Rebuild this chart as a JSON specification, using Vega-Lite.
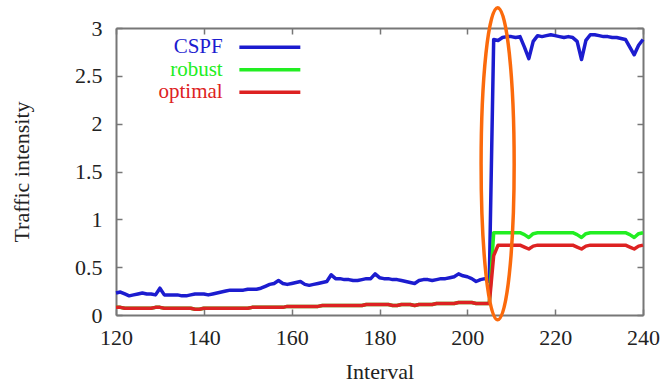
{
  "$schema": "https://vega.github.io/schema/vega-lite/v6.json",
  "width": 527,
  "height": 287,
  "autosize": {"type": "none"},
  "padding": {"left": 116, "top": 28, "right": 21, "bottom": 70},
  "background": "white",
  "config": {
    "view": {"stroke": null},
    "font": "Liberation Serif",
    "legend": {"labelFont": "Liberation Serif", "labelFontSize": 21},
    "axis": {
      "labelFont": "Liberation Serif",
      "labelFontSize": 22,
      "labelColor": "#222",
      "titleFont": "Liberation Serif",
      "titleFontSize": 22,
      "titleFontWeight": "normal",
      "titleColor": "#222",
      "domainColor": "#777",
      "domainWidth": 2,
      "tickColor": "#777",
      "tickWidth": 1.5,
      "tickSize": -6,
      "grid": false
    }
  },
  "datasets": {
    "series": [
      {"interval": 120, "CSPF": 0.23, "robust": 0.08, "optimal": 0.08},
      {"interval": 121, "CSPF": 0.24, "robust": 0.08, "optimal": 0.08},
      {"interval": 122, "CSPF": 0.22, "robust": 0.07, "optimal": 0.07},
      {"interval": 123, "CSPF": 0.2, "robust": 0.07, "optimal": 0.07},
      {"interval": 124, "CSPF": 0.21, "robust": 0.07, "optimal": 0.07},
      {"interval": 125, "CSPF": 0.22, "robust": 0.07, "optimal": 0.07},
      {"interval": 126, "CSPF": 0.23, "robust": 0.07, "optimal": 0.07},
      {"interval": 127, "CSPF": 0.22, "robust": 0.07, "optimal": 0.07},
      {"interval": 128, "CSPF": 0.22, "robust": 0.07, "optimal": 0.07},
      {"interval": 129, "CSPF": 0.21, "robust": 0.08, "optimal": 0.08},
      {"interval": 130, "CSPF": 0.28, "robust": 0.08, "optimal": 0.08},
      {"interval": 131, "CSPF": 0.21, "robust": 0.07, "optimal": 0.07},
      {"interval": 132, "CSPF": 0.21, "robust": 0.07, "optimal": 0.07},
      {"interval": 133, "CSPF": 0.21, "robust": 0.07, "optimal": 0.07},
      {"interval": 134, "CSPF": 0.21, "robust": 0.07, "optimal": 0.07},
      {"interval": 135, "CSPF": 0.2, "robust": 0.07, "optimal": 0.07},
      {"interval": 136, "CSPF": 0.2, "robust": 0.07, "optimal": 0.07},
      {"interval": 137, "CSPF": 0.21, "robust": 0.07, "optimal": 0.07},
      {"interval": 138, "CSPF": 0.22, "robust": 0.06, "optimal": 0.06},
      {"interval": 139, "CSPF": 0.22, "robust": 0.06, "optimal": 0.06},
      {"interval": 140, "CSPF": 0.22, "robust": 0.07, "optimal": 0.07},
      {"interval": 141, "CSPF": 0.21, "robust": 0.07, "optimal": 0.07},
      {"interval": 142, "CSPF": 0.22, "robust": 0.07, "optimal": 0.07},
      {"interval": 143, "CSPF": 0.23, "robust": 0.07, "optimal": 0.07},
      {"interval": 144, "CSPF": 0.24, "robust": 0.07, "optimal": 0.07},
      {"interval": 145, "CSPF": 0.25, "robust": 0.07, "optimal": 0.07},
      {"interval": 146, "CSPF": 0.26, "robust": 0.07, "optimal": 0.07},
      {"interval": 147, "CSPF": 0.26, "robust": 0.07, "optimal": 0.07},
      {"interval": 148, "CSPF": 0.26, "robust": 0.07, "optimal": 0.07},
      {"interval": 149, "CSPF": 0.26, "robust": 0.07, "optimal": 0.07},
      {"interval": 150, "CSPF": 0.27, "robust": 0.07, "optimal": 0.07},
      {"interval": 151, "CSPF": 0.27, "robust": 0.08, "optimal": 0.08},
      {"interval": 152, "CSPF": 0.27, "robust": 0.08, "optimal": 0.08},
      {"interval": 153, "CSPF": 0.28, "robust": 0.08, "optimal": 0.08},
      {"interval": 154, "CSPF": 0.3, "robust": 0.08, "optimal": 0.08},
      {"interval": 155, "CSPF": 0.32, "robust": 0.08, "optimal": 0.08},
      {"interval": 156, "CSPF": 0.33, "robust": 0.08, "optimal": 0.08},
      {"interval": 157, "CSPF": 0.36, "robust": 0.08, "optimal": 0.08},
      {"interval": 158, "CSPF": 0.33, "robust": 0.08, "optimal": 0.08},
      {"interval": 159, "CSPF": 0.32, "robust": 0.09, "optimal": 0.09},
      {"interval": 160, "CSPF": 0.33, "robust": 0.09, "optimal": 0.09},
      {"interval": 161, "CSPF": 0.34, "robust": 0.09, "optimal": 0.09},
      {"interval": 162, "CSPF": 0.35, "robust": 0.09, "optimal": 0.09},
      {"interval": 163, "CSPF": 0.32, "robust": 0.09, "optimal": 0.09},
      {"interval": 164, "CSPF": 0.31, "robust": 0.09, "optimal": 0.09},
      {"interval": 165, "CSPF": 0.32, "robust": 0.09, "optimal": 0.09},
      {"interval": 166, "CSPF": 0.33, "robust": 0.09, "optimal": 0.09},
      {"interval": 167, "CSPF": 0.34, "robust": 0.1, "optimal": 0.1},
      {"interval": 168, "CSPF": 0.35, "robust": 0.1, "optimal": 0.1},
      {"interval": 169, "CSPF": 0.42, "robust": 0.1, "optimal": 0.1},
      {"interval": 170, "CSPF": 0.38, "robust": 0.1, "optimal": 0.1},
      {"interval": 171, "CSPF": 0.38, "robust": 0.1, "optimal": 0.1},
      {"interval": 172, "CSPF": 0.37, "robust": 0.1, "optimal": 0.1},
      {"interval": 173, "CSPF": 0.37, "robust": 0.1, "optimal": 0.1},
      {"interval": 174, "CSPF": 0.36, "robust": 0.1, "optimal": 0.1},
      {"interval": 175, "CSPF": 0.36, "robust": 0.1, "optimal": 0.1},
      {"interval": 176, "CSPF": 0.37, "robust": 0.1, "optimal": 0.1},
      {"interval": 177, "CSPF": 0.38, "robust": 0.11, "optimal": 0.11},
      {"interval": 178, "CSPF": 0.38, "robust": 0.11, "optimal": 0.11},
      {"interval": 179, "CSPF": 0.43, "robust": 0.11, "optimal": 0.11},
      {"interval": 180, "CSPF": 0.39, "robust": 0.11, "optimal": 0.11},
      {"interval": 181, "CSPF": 0.38, "robust": 0.11, "optimal": 0.11},
      {"interval": 182, "CSPF": 0.38, "robust": 0.11, "optimal": 0.11},
      {"interval": 183, "CSPF": 0.37, "robust": 0.1, "optimal": 0.1},
      {"interval": 184, "CSPF": 0.37, "robust": 0.1, "optimal": 0.1},
      {"interval": 185, "CSPF": 0.36, "robust": 0.11, "optimal": 0.11},
      {"interval": 186, "CSPF": 0.35, "robust": 0.11, "optimal": 0.11},
      {"interval": 187, "CSPF": 0.34, "robust": 0.11, "optimal": 0.11},
      {"interval": 188, "CSPF": 0.33, "robust": 0.1, "optimal": 0.1},
      {"interval": 189, "CSPF": 0.36, "robust": 0.11, "optimal": 0.11},
      {"interval": 190, "CSPF": 0.37, "robust": 0.11, "optimal": 0.11},
      {"interval": 191, "CSPF": 0.37, "robust": 0.11, "optimal": 0.11},
      {"interval": 192, "CSPF": 0.36, "robust": 0.11, "optimal": 0.11},
      {"interval": 193, "CSPF": 0.37, "robust": 0.12, "optimal": 0.12},
      {"interval": 194, "CSPF": 0.38, "robust": 0.12, "optimal": 0.12},
      {"interval": 195, "CSPF": 0.38, "robust": 0.12, "optimal": 0.12},
      {"interval": 196, "CSPF": 0.39, "robust": 0.12, "optimal": 0.12},
      {"interval": 197, "CSPF": 0.4, "robust": 0.12, "optimal": 0.12},
      {"interval": 198, "CSPF": 0.43, "robust": 0.13, "optimal": 0.13},
      {"interval": 199, "CSPF": 0.41, "robust": 0.13, "optimal": 0.13},
      {"interval": 200, "CSPF": 0.4, "robust": 0.13, "optimal": 0.13},
      {"interval": 201, "CSPF": 0.38, "robust": 0.13, "optimal": 0.13},
      {"interval": 202, "CSPF": 0.35, "robust": 0.12, "optimal": 0.12},
      {"interval": 203, "CSPF": 0.37, "robust": 0.12, "optimal": 0.12},
      {"interval": 204, "CSPF": 0.38, "robust": 0.12, "optimal": 0.12},
      {"interval": 205, "CSPF": 0.35, "robust": 0.12, "optimal": 0.12},
      {"interval": 206, "CSPF": 2.88, "robust": 0.86, "optimal": 0.62},
      {"interval": 207, "CSPF": 2.87, "robust": 0.86, "optimal": 0.73},
      {"interval": 208, "CSPF": 2.9, "robust": 0.86, "optimal": 0.73},
      {"interval": 209, "CSPF": 2.91, "robust": 0.86, "optimal": 0.73},
      {"interval": 210, "CSPF": 2.91, "robust": 0.86, "optimal": 0.73},
      {"interval": 211, "CSPF": 2.9, "robust": 0.86, "optimal": 0.73},
      {"interval": 212, "CSPF": 2.91, "robust": 0.86, "optimal": 0.73},
      {"interval": 213, "CSPF": 2.8, "robust": 0.84, "optimal": 0.71},
      {"interval": 214, "CSPF": 2.68, "robust": 0.81, "optimal": 0.69},
      {"interval": 215, "CSPF": 2.86, "robust": 0.85, "optimal": 0.72},
      {"interval": 216, "CSPF": 2.92, "robust": 0.86, "optimal": 0.73},
      {"interval": 217, "CSPF": 2.91, "robust": 0.86, "optimal": 0.73},
      {"interval": 218, "CSPF": 2.92, "robust": 0.86, "optimal": 0.73},
      {"interval": 219, "CSPF": 2.93, "robust": 0.86, "optimal": 0.73},
      {"interval": 220, "CSPF": 2.92, "robust": 0.86, "optimal": 0.73},
      {"interval": 221, "CSPF": 2.91, "robust": 0.86, "optimal": 0.73},
      {"interval": 222, "CSPF": 2.9, "robust": 0.86, "optimal": 0.73},
      {"interval": 223, "CSPF": 2.91, "robust": 0.86, "optimal": 0.73},
      {"interval": 224, "CSPF": 2.9, "robust": 0.86, "optimal": 0.73},
      {"interval": 225, "CSPF": 2.86, "robust": 0.84, "optimal": 0.71},
      {"interval": 226, "CSPF": 2.67, "robust": 0.81, "optimal": 0.69},
      {"interval": 227, "CSPF": 2.87, "robust": 0.85, "optimal": 0.72},
      {"interval": 228, "CSPF": 2.93, "robust": 0.86, "optimal": 0.73},
      {"interval": 229, "CSPF": 2.93, "robust": 0.86, "optimal": 0.73},
      {"interval": 230, "CSPF": 2.92, "robust": 0.86, "optimal": 0.73},
      {"interval": 231, "CSPF": 2.91, "robust": 0.86, "optimal": 0.73},
      {"interval": 232, "CSPF": 2.91, "robust": 0.86, "optimal": 0.73},
      {"interval": 233, "CSPF": 2.9, "robust": 0.86, "optimal": 0.73},
      {"interval": 234, "CSPF": 2.9, "robust": 0.86, "optimal": 0.73},
      {"interval": 235, "CSPF": 2.89, "robust": 0.86, "optimal": 0.73},
      {"interval": 236, "CSPF": 2.88, "robust": 0.86, "optimal": 0.73},
      {"interval": 237, "CSPF": 2.8, "robust": 0.84, "optimal": 0.71},
      {"interval": 238, "CSPF": 2.72, "robust": 0.81, "optimal": 0.69},
      {"interval": 239, "CSPF": 2.82, "robust": 0.85, "optimal": 0.72},
      {"interval": 240, "CSPF": 2.88, "robust": 0.86, "optimal": 0.73}
    ],
    "highlight": [
      {"interval": 206.9, "intensity": 1.58}
    ]
  },
  "resolve": {"axis": {"x": "independent", "y": "independent"}},
  "layer": [
    {
      "data": {"name": "series"},
      "transform": [{"fold": ["CSPF", "robust", "optimal"], "as": ["method", "intensity"]}],
      "mark": {"type": "line", "strokeWidth": 3.5, "strokeJoin": "round"},
      "encoding": {
        "x": {
          "field": "interval", "type": "quantitative",
          "scale": {"domain": [120, 240], "nice": false, "zero": false},
          "axis": {"title": "Interval", "values": [120, 140, 160, 180, 200, 220, 240], "labelPadding": 18, "titlePadding": 13, "labelFlush": false}
        },
        "y": {
          "field": "intensity", "type": "quantitative",
          "scale": {"domain": [0, 3], "nice": false},
          "axis": {"title": "Traffic intensity", "values": [0, 0.5, 1, 1.5, 2, 2.5, 3], "format": "~g", "labelPadding": 20, "titlePadding": 41}
        },
        "color": {
          "field": "method", "type": "nominal",
          "scale": {"domain": ["CSPF", "robust", "optimal"], "range": ["#1c1ccf", "#22ee22", "#dd2222"]},
          "legend": {
            "orient": "none", "legendX": 141.85, "legendY": 7.3, "title": null,
            "direction": "vertical", "symbolType": "M-3,0H3", "symbolSize": 413,
            "symbolStrokeWidth": 3.5, "labelFont": "Liberation Serif", "labelFontSize": 21,
            "labelAlign": "right", "labelOffset": -59.15, "rowPadding": 0.5, "padding": 0,
            "labelLimit": 0,
            "encode": {"labels": {"update": {
              "fill": {"scale": "color", "field": "value"},
              "font": {"value": "Liberation Serif"},
              "fontSize": {"value": 21}
            }}}
          }
        }
      }
    },
    {
      "data": {"name": "series"},
      "mark": {"type": "line", "opacity": 0},
      "encoding": {
        "x": {"field": "interval", "type": "quantitative", "axis": {"orient": "top", "title": null, "labels": false, "values": [120, 140, 160, 180, 200, 220, 240]}},
        "y": {"field": "CSPF", "type": "quantitative", "axis": {"orient": "right", "title": null, "labels": false, "values": [0, 0.5, 1, 1.5, 2, 2.5, 3]}}
      }
    },
    {
      "data": {"name": "highlight"},
      "mark": {
        "type": "point", "filled": false, "stroke": "#fb6a0c", "strokeWidth": 3.5, "opacity": 1, "size": 97344,
        "shape": "M0,-1C0.0585,-1,0.106,-0.5523,0.106,0C0.106,0.5523,0.0585,1,0,1C-0.0585,1,-0.106,0.5523,-0.106,0C-0.106,-0.5523,-0.0585,-1,0,-1Z"
      },
      "encoding": {
        "x": {"field": "interval", "type": "quantitative", "axis": null},
        "y": {"field": "intensity", "type": "quantitative", "axis": null}
      }
    }
  ]
}
